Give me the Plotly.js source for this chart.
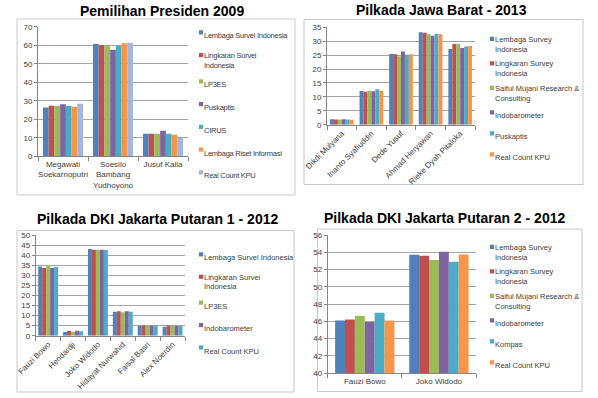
<!DOCTYPE html>
<html>
<head>
<meta charset="utf-8">
<script src="https://cdn.plot.ly/plotly-3.0.1.min.js"></script>
<style>
html,body{margin:0;padding:0;background:#fff;}
#chart{width:598px;height:398px;}
.legendpoints path{transform:translate(37px,0) scale(0.35);}
text.legendtext, text.legendtext tspan{letter-spacing:-0.25px !important;}
</style>
</head>
<body>
<div id="chart"></div>
<script>
// ---------- DATA ----------
// Chart 1: Pemilihan Presiden 2009
const presCategories = ['Megawati<br>Soekarnoputri', 'Soesilo<br>Bambang<br>Yudhoyono', 'Jusuf Kalla'];
const presSeriesNames = ['Lembaga Survei Indonesia', 'Lingkaran Survei<br>Indonesia', 'LP3ES', 'Puskaptis', 'CIRUS', 'Lembaga Riset Informasi', 'Real Count KPU'];
const presLSI = [26.3, 60.6, 12.2];
const presLingkaran = [27.3, 60.1, 12.2];
const presLP3ES = [27.3, 60.1, 12.2];
const presPuskaptis = [28.1, 57.6, 13.8];
const presCIRUS = [27.2, 59.9, 12.2];
const presLRI = [26.8, 61.0, 11.7];
const presKPU = [28.4, 61.3, 9.9];

// Chart 2: Pilkada Jawa Barat 2013
const jabarCategories = ['Dikdi Mulyana', 'Irianto Syafiuddin', 'Dede Yusuf', 'Ahmad Heryawan', 'Rieke Dyah Pitaloka'];
const jabarSeriesNames = ['Lembaga Survey<br>Indonesia', 'Lingkaran Survey<br>Indonesia', 'Saiful Mujani Research &<br>Consulting', 'Indobarometer', 'Puskaptis', 'Real Count KPU'];
const jabarLSI = [2.0, 12.1, 25.4, 33.2, 27.2];
const jabarLingkaran = [1.9, 11.8, 25.3, 33.0, 29.0];
const jabarSMRC = [1.9, 12.1, 24.6, 32.5, 29.0];
const jabarIndobarometer = [2.0, 12.0, 26.3, 32.0, 27.6];
const jabarPuskaptis = [1.9, 12.7, 25.1, 32.7, 28.1];
const jabarKPU = [1.8, 12.2, 25.3, 32.5, 28.3];

// Chart 3: Pilkada DKI Jakarta Putaran 1 - 2012
const dki1Categories = ['Fauzi Bowo', 'Hendardji', 'Joko Widodo', 'Hidayat Nurwahid', 'Faisal Basri', 'Alex Noerdin'];
const dki1SeriesNames = ['Lembaga Survei Indonesia', 'Lingkaran Survei<br>Indonesia', 'LP3ES', 'Indobarometer', 'Real Count KPU'];
const dki1LSI = [34.3, 1.8, 43.0, 11.9, 4.8, 4.5];
const dki1Lingkaran = [33.6, 2.3, 42.7, 12.1, 5.1, 5.1];
const dki1LP3ES = [35.1, 2.0, 42.7, 11.6, 5.1, 4.8];
const dki1Indobarometer = [33.6, 2.5, 42.7, 12.1, 5.1, 4.8];
const dki1KPU = [34.1, 2.2, 42.6, 11.9, 5.0, 4.8];

// Chart 4: Pilkada DKI Jakarta Putaran 2 - 2012
const dki2Categories = ['Fauzi Bowo', 'Joko Widodo'];
const dki2SeriesNames = ['Lembaga Survey<br>Indonesia', 'Lingkaran Survey<br>Indonesia', 'Saiful Mujani Research &<br>Consulting', 'Indobarometer', 'Kompas', 'Real Count KPU'];
const dki2LSI = [46.1, 53.7];
const dki2Lingkaran = [46.2, 53.6];
const dki2SMRC = [46.6, 53.1];
const dki2Indobarometer = [45.9, 54.05];
const dki2Kompas = [47.0, 52.9];
const dki2KPU = [46.1, 53.75];

const titles = ['Pemilihan Presiden 2009', 'Pilkada Jawa Barat - 2013', 'Pilkada DKI Jakarta Putaran 1 - 2012', 'Pilkada DKI Jakarta Putaran 2 - 2012'];

// ---------- STYLE ----------
const C = {blue:'#4F81BD', red:'#C0504D', green:'#9BBB59', purple:'#8064A2', cyan:'#4BACC6', orange:'#F79646', light:'#A3B6DE'};
const W = 598, H = 398;
const px = v => v / W;
const py = v => 1 - v / H;

const traces = [];
function addSeries(cats, names, valueArrays, colors, xa, ya, legendId) {
  valueArrays.forEach((vals, i) => {
    traces.push({
      type: 'bar', x: cats, y: vals, name: names[i],
      marker: {color: colors[i], line: {width: 0}},
      xaxis: xa, yaxis: ya, legend: legendId,
      legendgroup: legendId + '_' + i,
      hoverinfo: 'y+name'
    });
  });
}
addSeries(presCategories, presSeriesNames,
  [presLSI, presLingkaran, presLP3ES, presPuskaptis, presCIRUS, presLRI, presKPU],
  [C.blue, C.red, C.green, C.purple, C.cyan, C.orange, C.light], 'x', 'y', 'legend');
addSeries(jabarCategories, jabarSeriesNames,
  [jabarLSI, jabarLingkaran, jabarSMRC, jabarIndobarometer, jabarPuskaptis, jabarKPU],
  [C.blue, C.red, C.green, C.purple, C.cyan, C.orange], 'x2', 'y2', 'legend2');
addSeries(dki1Categories, dki1SeriesNames,
  [dki1LSI, dki1Lingkaran, dki1LP3ES, dki1Indobarometer, dki1KPU],
  [C.blue, C.red, C.green, C.purple, C.cyan], 'x3', 'y3', 'legend3');
addSeries(dki2Categories, dki2SeriesNames,
  [dki2LSI, dki2Lingkaran, dki2SMRC, dki2Indobarometer, dki2Kompas, dki2KPU],
  [C.blue, C.red, C.green, C.purple, C.cyan, C.orange], 'x4', 'y4', 'legend4');

const tickFont = {family: 'Liberation Sans, Arial, sans-serif', size: 8, color: '#404040'};
const axisGray = '#868686';
function xAxis(x0, x1, anchor, angle) {
  return {domain: [px(x0), px(x1)], anchor: anchor, type: 'category',
    showline: true, linecolor: axisGray, linewidth: 1, ticks: 'outside', tickson: 'boundaries',
    ticklen: 4, tickcolor: axisGray, showgrid: false, zeroline: false,
    tickfont: tickFont, tickangle: angle, fixedrange: true};
}
function yAxis(top, bottom, anchor, range, dtick) {
  return {domain: [py(bottom), py(top)], anchor: anchor, range: range, dtick: dtick,
    showline: true, linecolor: axisGray, linewidth: 1, ticks: 'outside', ticklen: 3,
    tickcolor: axisGray, showgrid: true, gridcolor: '#a6a6a6', gridwidth: 1, zeroline: false,
    tickfont: tickFont, fixedrange: true};
}
function legendAt(x, y, gap) {
  return {x: px(x), y: py(y), xanchor: 'left', yanchor: 'top', bgcolor: 'rgba(0,0,0,0)',
    font: {family: 'Liberation Sans, Arial, sans-serif', size: 7.5, color: '#404040'},
    traceorder: 'grouped', tracegroupgap: gap, valign: 'top', itemclick: false, itemdoubleclick: false};
}
function box(x0, y0, x1, y1) {
  return {type: 'rect', xref: 'paper', yref: 'paper', x0: px(x0), x1: px(x1), y0: py(y1), y1: py(y0),
    line: {color: '#c8c8c8', width: 1}, fillcolor: 'rgba(0,0,0,0)', layer: 'below'};
}
function title(text, cx, cy) {
  return {text: text, xref: 'paper', yref: 'paper', x: px(cx), y: py(cy), xanchor: 'center', yanchor: 'middle',
    showarrow: false, font: {family: 'Liberation Sans, Arial, sans-serif', size: 14, color: '#000', weight: 'bold'}};
}

const layout = {
  width: W, height: H, margin: {l: 0, r: 0, t: 0, b: 0},
  paper_bgcolor: '#fff', plot_bgcolor: '#fff',
  barmode: 'group', bargap: 0.2, bargroupgap: 0,
  showlegend: true,
  xaxis: xAxis(38, 188, 'y', 0),
  yaxis: yAxis(26.7, 156.3, 'x', [0, 70], 10),
  xaxis2: xAxis(327, 475, 'y2', -45),
  yaxis2: yAxis(27.3, 124.7, 'x2', [0, 35], 5),
  xaxis3: xAxis(35.7, 185, 'y3', -45),
  yaxis3: yAxis(235, 335.7, 'x3', [0, 50], 5),
  xaxis4: xAxis(327.7, 476, 'y4', 0),
  yaxis4: yAxis(235, 373, 'x4', [40, 56], 2),
  legend: legendAt(164, 21, 3.75),
  legend2: legendAt(455, 27.5, 2),
  legend3: legendAt(164, 243, 3.4),
  legend4: legendAt(455, 235.5, 2),
  shapes: [box(17, 19, 295, 195), box(304, 19.5, 583, 184.5), box(17, 230.5, 294, 392), box(317.5, 229, 582, 391.5)],
  annotations: [title(titles[0], 161.5, 11.3), title(titles[1], 441.5, 10.5), title(titles[2], 157, 218.5), title(titles[3], 444.5, 218)]
};

Plotly.newPlot('chart', traces, layout, {displayModeBar: false, staticPlot: false});
</script>
</body>
</html>
